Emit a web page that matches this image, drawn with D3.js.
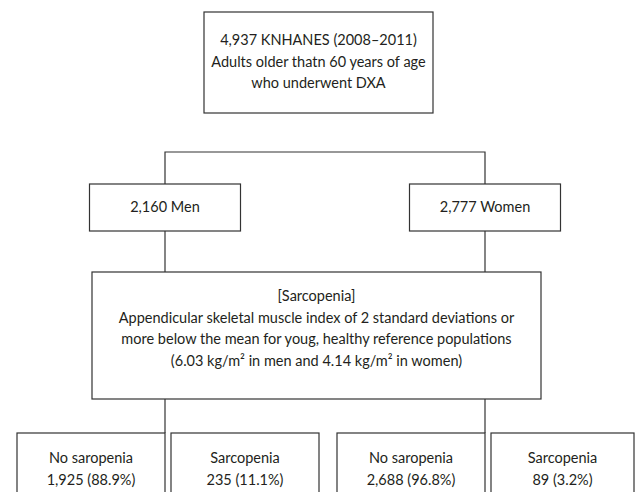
<!DOCTYPE html>
<html lang="en">
<head>
<meta charset="UTF-8">
<title>Sarcopenia flowchart</title>
<script src="https://cdn.jsdelivr.net/npm/d3@7/dist/d3.min.js"></script>
<style>
  body { margin: 0; background: #fff; }
  svg text { font-family: Lato, "Noto Sans", sans-serif; font-size: 14.5px; fill: #231f20; }
  .box { fill: #fff; stroke: #333; stroke-width: 1.2; }
  .link { fill: none; stroke: #333; stroke-width: 1.2; }
</style>
</head>
<body>
<div id="chart"></div>
<script>
// data
var sourceLines = ['4,937 KNHANES (2008\u20132011)', 'Adults older thatn 60 years of age', 'who underwent DXA'];
var groups = ['2,160 Men', '2,777 Women'];
var criteriaLines = ['[Sarcopenia]',
  'Appendicular skeletal muscle index of 2 standard deviations or',
  'more below the mean for youg, healthy reference populations',
  '(6.03 kg/m\u00b2 in men and 4.14 kg/m\u00b2 in women)'];
var outcomeGroup = ['2,160 Men', '2,160 Men', '2,777 Women', '2,777 Women'];
var outcomeLabels = ['No saropenia', 'Sarcopenia', 'No saropenia', 'Sarcopenia'];
var outcomeCounts = [1925, 235, 2688, 89];
var outcomePcts = [88.9, 11.1, 96.8, 3.2];

var width = 635, height = 492, lineH = 21.5;

var svg = d3.select('#chart').append('svg')
    .attr('width', width).attr('height', height);

// layout scales
var xGroup = d3.scalePoint().domain(groups).range([165, 485]);
var yLevel = d3.scaleOrdinal()
    .domain(['source', 'sourceEnd', 'split', 'groups', 'groupsEnd', 'criteria', 'criteriaEnd', 'outcomes'])
    .range([12, 113, 152, 184, 231, 272, 399, 433]);

function multiline(g, lines, cx, firstBaseline) {
  g.selectAll(null).data(lines).enter().append('text')
    .attr('x', cx)
    .attr('y', function(d, i) { return firstBaseline + i * lineH; })
    .attr('text-anchor', 'middle')
    .text(function(d) { return d; });
}

// source box
var src = svg.append('g');
src.append('rect').attr('class', 'box')
   .attr('x', 204).attr('y', yLevel('source'))
   .attr('width', 229).attr('height', yLevel('sourceEnd') - yLevel('source'));
multiline(src, sourceLines, 318.5, yLevel('source') + 33);

// split bracket
svg.append('path').attr('class', 'link')
   .attr('d', 'M' + xGroup(groups[0]) + ',' + yLevel('groups') + 'V' + yLevel('split') +
              'H' + xGroup(groups[1]) + 'V' + yLevel('groups'));

// group boxes
var gw = 151;
var gBoxes = svg.selectAll('.grp').data(groups).enter().append('g').attr('class', 'grp');
gBoxes.append('rect').attr('class', 'box')
   .attr('x', function(d) { return xGroup(d) - gw / 2; })
   .attr('y', yLevel('groups'))
   .attr('width', gw).attr('height', yLevel('groupsEnd') - yLevel('groups'));
gBoxes.append('text')
   .attr('x', function(d) { return xGroup(d); })
   .attr('y', yLevel('groups') + 28)
   .attr('text-anchor', 'middle')
   .text(function(d) { return d; });

// connectors group -> criteria -> outcomes
groups.forEach(function(g) {
  svg.append('line').attr('class', 'link')
     .attr('x1', xGroup(g)).attr('x2', xGroup(g))
     .attr('y1', yLevel('groupsEnd')).attr('y2', yLevel('criteria'));
  svg.append('line').attr('class', 'link')
     .attr('x1', xGroup(g)).attr('x2', xGroup(g))
     .attr('y1', yLevel('criteriaEnd')).attr('y2', yLevel('outcomes'));
});

// criteria box
var crit = svg.append('g');
crit.append('rect').attr('class', 'box')
   .attr('x', 92).attr('y', yLevel('criteria'))
   .attr('width', 449).attr('height', yLevel('criteriaEnd') - yLevel('criteria'));
multiline(crit, criteriaLines, 316.5, yLevel('criteria') + 29);

// outcome boxes
var ow = 148, gap = 6, fmtN = d3.format(','), fmtP = d3.format('.1f');
var outcomes = outcomeLabels.map(function(l, i) {
  return { label: l, n: outcomeCounts[i], p: outcomePcts[i], group: outcomeGroup[i], side: i % 2 };
});
var oBoxes = svg.selectAll('.out').data(outcomes).enter().append('g').attr('class', 'out')
   .attr('transform', function(d) {
     var x0 = d.side === 0 ? xGroup(d.group) - ow : xGroup(d.group) + gap;
     return 'translate(' + x0 + ',' + yLevel('outcomes') + ')';
   });
oBoxes.append('rect').attr('class', 'box')
   .attr('width', function(d) { return d.side === 1 && d.group === groups[1] ? 143 : ow; })
   .attr('height', 90);
oBoxes.append('text')
   .attr('x', function(d) { return (d.side === 1 && d.group === groups[1] ? 143 : ow) / 2; })
   .attr('y', 30).attr('text-anchor', 'middle')
   .text(function(d) { return d.label; });
oBoxes.append('text')
   .attr('x', function(d) { return (d.side === 1 && d.group === groups[1] ? 143 : ow) / 2; })
   .attr('y', 30 + lineH).attr('text-anchor', 'middle')
   .text(function(d) { return fmtN(d.n) + ' (' + fmtP(d.p) + '%)'; });
</script>
</body>
</html>
